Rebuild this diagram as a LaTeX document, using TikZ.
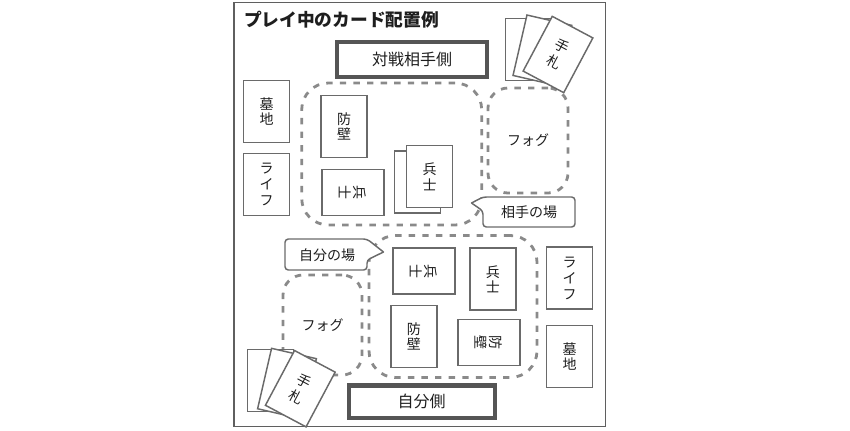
\documentclass[tikz,border=0pt]{standalone}
\usepackage{fontspec}
\setmainfont{Noto Sans CJK JP}
\definecolor{framegray}{HTML}{5F5F5F}
\definecolor{cardgray}{HTML}{6A6A6A}
\definecolor{darkbox}{HTML}{555555}
\definecolor{dashgray}{HTML}{8A8A8A}
\definecolor{txt}{HTML}{1E1E1E}
\begin{document}
\begin{tikzpicture}[x=0.75pt,y=-0.75pt,
  every node/.style={text=txt, inner sep=0pt, outer sep=0pt},
  card/.style={draw=cardgray, line width=1.1pt, fill=white, minimum width=34.5pt, minimum height=46.5pt, align=center, font=\fontsize{10.5}{11.5}\selectfont},
  hcard/.style={card, rotate=-90},
  handcard/.style={card, font=\fontsize{10.5}{13.5}\selectfont},
  sidebox/.style={draw=darkbox, line width=3.2pt, fill=white, font=\fontsize{12}{14}\selectfont},
  zone/.style={draw=dashgray, line width=2.1pt, dash pattern=on 4.8pt off 5.4pt, rounded corners=20pt},
  fog/.style={zone, rounded corners=15pt, font=\fontsize{10.5}{12}\selectfont},
  callout/.style={draw=cardgray, line width=1.1pt, fill=white, rounded corners=2.5pt, line join=round, line cap=round},
  lbl/.style={font=\fontsize{10.5}{12}\selectfont}
]
\useasboundingbox (0,0) rectangle (850,430);
% frame
\node[draw=framegray, line width=1.1pt, minimum width=278.6pt, minimum height=318pt] (frame) at (419.5,214.5) {};
% title
\node[anchor=west, font=\bfseries\fontsize{13.3}{15}\selectfont] (title) at (244,20) {プレイ中のカード配置例};
% fields
\node[zone, minimum width=135pt, minimum height=106.5pt] (oppfield) at (391.7,154) {};
\node[zone, minimum width=126pt, minimum height=106.5pt] (ownfield) at (453,306.5) {};
% fogs
\node[fog, minimum width=60pt, minimum height=78.75pt] (fogtop) at (528,140.5) {フォグ};
\node[fog, minimum width=59.25pt, minimum height=75pt] (fogbot) at (322.5,325) {フォグ};
% side boxes
\node[sidebox, minimum width=112.1pt, minimum height=25.9pt] (oppside) at (412,59.5) {対戦相手側};
\node[sidebox, minimum width=109.5pt, minimum height=24.5pt] (ownside) at (421.7,401.7) {自分側};
% opponent cards
\node[card] (grave1) at (266.7,111.3) {墓\\地};
\node[card, font=\fontsize{10.5}{12}\selectfont] (life1) at (266.7,184.3) {ラ\\イ\\フ};
\node[card] (wall1) at (344.2,126.3) {防\\壁};
\node[hcard] (sold1) at (352.8,192.5) {兵\\士};
\node[card] (stackback) at (417.7,182.2) {};
\node[card] (stackfront) at (429.5,176.7) {兵\\士};
\node[card] (hand1a) at (528.5,49.5) {};
\node[card, rotate=-13] (hand1b) at (542.4,50.4) {};
\node[handcard, rotate=-28] (hand1c) at (558,54.5) {手\\札};
% own cards
\node[hcard] (sold2) at (423.8,271) {兵\\士};
\node[card] (wall2) at (413.8,336.5) {防\\壁};
\node[hcard] (wall3) at (488.8,342.3) {防\\壁};
\node[card] (sold3) at (492.8,279) {兵\\士};
\node[card, font=\fontsize{10.5}{12}\selectfont] (life2) at (569.5,278) {ラ\\イ\\フ};
\node[card] (grave2) at (569.5,356.5) {墓\\地};
\node[card] (hand2a) at (270.5,380.5) {};
\node[card, rotate=-13] (hand2b) at (287,383.7) {};
\node[handcard, rotate=-28] (hand2c) at (300.3,388.7) {手\\札};
% callouts
\draw[callout] (471.5,203) -- (483,211) -- (483,227) -- (575,227) -- (575,197) -- (483,197) -- (471.5,203);
\node[lbl] (opplbl) at (529.2,212) {相手の場};
\draw[callout] (383.5,252) -- (367,260) -- (367,270) -- (285,270) -- (285,239) -- (367,239) -- (383.5,252);
\node[lbl] (ownlbl) at (327,255) {自分の場};
\end{tikzpicture}
\end{document}
